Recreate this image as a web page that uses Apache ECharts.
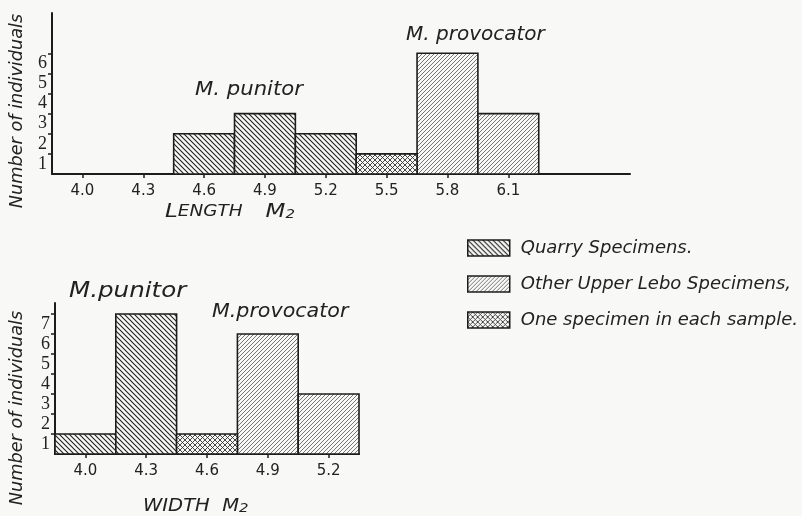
<!DOCTYPE html>
<html>
<head>
<meta charset="utf-8">
<script src="https://cdn.jsdelivr.net/npm/echarts@6/dist/echarts.min.js"></script>
<style>
  html, body { margin: 0; padding: 0; background: #f8f8f7; }
  #main { width: 802px; height: 516px; }
</style>
</head>
<body>
<div id="main"></div>
<script>
// histogram data (bin centres, counts, which hatch)
var binWidth = 0.3;

var lengthBins   = [4.6, 4.9, 5.2, 5.5, 5.8, 6.1];
var lengthCounts = [2, 3, 2, 1, 6, 3];
var lengthGroup  = ['quarry', 'quarry', 'quarry', 'both', 'other', 'other'];
var lengthTicks  = [4.0, 4.3, 4.6, 4.9, 5.2, 5.5, 5.8, 6.1];

var widthBins   = [4.0, 4.3, 4.6, 4.9, 5.2];
var widthCounts = [1, 7, 1, 6, 3];
var widthGroup  = ['quarry', 'quarry', 'both', 'other', 'other'];
var widthTicks  = [4.0, 4.3, 4.6, 4.9, 5.2];

var countTicks  = [1, 2, 3, 4, 5, 6];
var countTicksW = [1, 2, 3, 4, 5, 6, 7];

var groupNames = {
  quarry: 'Quarry Specimens.',
  other: 'Other Upper Lebo Specimens,',
  both: 'One specimen in each sample.'
};

var ink = '#1c1c1c';
var font = 'DejaVu Sans';

// hatch tiles
function hatch(size, dirs, lw, color) {
  var c = document.createElement('canvas');
  c.width = size; c.height = size;
  var ctx = c.getContext('2d');
  ctx.fillStyle = '#f8f8f7';
  ctx.fillRect(0, 0, size, size);
  ctx.strokeStyle = color;
  ctx.lineWidth = lw;
  dirs.forEach(function (d) {
    ctx.beginPath();
    if (d === '\\') {
      ctx.moveTo(-1, -1); ctx.lineTo(size + 1, size + 1);
      ctx.moveTo(-1, size - 1); ctx.lineTo(1, size + 1);
      ctx.moveTo(size - 1, -1); ctx.lineTo(size + 1, 1);
    } else {
      ctx.moveTo(-1, size + 1); ctx.lineTo(size + 1, -1);
      ctx.moveTo(-1, 1); ctx.lineTo(1, -1);
      ctx.moveTo(size - 1, size + 1); ctx.lineTo(size + 1, size - 1);
    }
    ctx.stroke();
  });
  return { image: c, repeat: 'repeat' };
}

var patterns = {
  quarry: hatch(5, ['\\'], 1.1, '#222'),
  other: hatch(4, ['/'], 0.8, '#555'),
  both: hatch(5, ['\\', '/'], 0.9, '#333')
};

function pick(bins, counts, groups, g) {
  var out = [];
  for (var i = 0; i < bins.length; i++) {
    if (groups[i] === g) out.push([bins[i], counts[i]]);
  }
  return out;
}

function groupOf(name) {
  for (var k in groupNames) if (groupNames[k] === name) return k;
}

function renderBar(params, api) {
  var x = api.value(0), n = api.value(1);
  var p0 = api.coord([x - binWidth / 2, n]);
  var p1 = api.coord([x + binWidth / 2, 0]);
  return {
    type: 'rect',
    shape: { x: p0[0], y: p0[1], width: p1[0] - p0[0], height: p1[1] - p0[1] },
    style: { fill: patterns[groupOf(params.seriesName)], stroke: ink, lineWidth: 1.6 }
  };
}

var series = [];
['quarry', 'other', 'both'].forEach(function (g) {
  series.push({
    type: 'custom', name: groupNames[g], xAxisIndex: 0, yAxisIndex: 0,
    renderItem: renderBar, encode: { x: 0, y: 1 },
    data: pick(lengthBins, lengthCounts, lengthGroup, g)
  });
  series.push({
    type: 'custom', name: groupNames[g], xAxisIndex: 1, yAxisIndex: 1,
    renderItem: renderBar, encode: { x: 0, y: 1 },
    data: pick(widthBins, widthCounts, widthGroup, g)
  });
});

function xAxis(idx, min, max, ticks) {
  return {
    type: 'value', gridIndex: idx, min: min, max: max,
    axisLine: { show: true, lineStyle: { color: ink, width: 2 } },
    axisTick: { show: true, customValues: ticks, length: 4, lineStyle: { color: ink, width: 1.5 } },
    axisLabel: {
      customValues: ticks, margin: 10, color: '#222', fontFamily: font, fontSize: 15,
      formatter: function (v) { return v.toFixed(1); }
    },
    splitLine: { show: false }
  };
}

function yAxis(idx, max, ticks) {
  return {
    type: 'value', gridIndex: idx, min: 0, max: max,
    axisLine: { show: true, lineStyle: { color: ink, width: 2 } },
    axisTick: { show: true, customValues: ticks, length: 4, lineStyle: { color: ink, width: 1.5 } },
    axisLabel: {
      customValues: ticks.map(function (t) { return t - 0.5; }),
      margin: 5, color: '#222', fontFamily: 'Liberation Serif', fontSize: 18,
      formatter: function (v) { return Math.round(v + 0.5); }
    },
    splitLine: { show: false }
  };
}

function label(x, y, text, size, sx) {
  return {
    type: 'text', x: x, y: y, scaleX: sx || 1,
    style: { text: text, font: 'italic ' + size + 'px "DejaVu Sans"', fill: '#222', verticalAlign: 'middle' }
  };
}

var chart = echarts.init(document.getElementById('main'));

var option = {
  backgroundColor: '#f8f8f7',
  animation: false,
  grid: [
    { left: 52, top: 13, width: 578, height: 161 },
    { left: 55, top: 303, width: 304, height: 151 }
  ],
  xAxis: [xAxis(0, 3.85, 6.70, lengthTicks), xAxis(1, 3.85, 5.35, widthTicks)],
  yAxis: [yAxis(0, 8, countTicks), yAxis(1, 7.55, countTicksW)],
  legend: {
    orient: 'vertical', left: 462, top: 234,
    itemWidth: 42, itemHeight: 16, itemGap: 18,
    icon: 'rect',
    selectedMode: false,
    textStyle: { fontFamily: font, fontStyle: 'italic', fontSize: 18, color: '#222', padding: [0, 0, 0, 6] },
    data: ['quarry', 'other', 'both'].map(function (g) {
      return { name: groupNames[g], itemStyle: { color: patterns[g], borderColor: ink, borderWidth: 1.5 } };
    })
  },
  graphic: [
    { type: 'text', x: 18, y: 111, rotation: Math.PI / 2, scaleX: 1.04,
      style: { text: 'Number of individuals', font: 'italic 17px "DejaVu Sans"', fill: '#222', align: 'center', verticalAlign: 'middle' } },
    { type: 'text', x: 18, y: 408, rotation: Math.PI / 2, scaleX: 1.04,
      style: { text: 'Number of individuals', font: 'italic 17px "DejaVu Sans"', fill: '#222', align: 'center', verticalAlign: 'middle' } },
    { type: 'text', x: 165, y: 212, scaleX: 1.15,
      style: {
        text: '{b|L}{s|ENGTH}      {b|M}{u|2}', verticalAlign: 'middle',
        rich: {
          b: { font: 'italic 20px "DejaVu Sans"', fill: '#222' },
          s: { font: 'italic 16px "DejaVu Sans"', fill: '#222' },
          u: { font: 'italic 13px "DejaVu Sans"', fill: '#222', padding: [5, 0, 0, 0] }
        }
      } },
    { type: 'text', x: 143, y: 507, scaleX: 1.15,
      style: {
        text: 'WIDTH  {u|M}{s|2}', font: 'italic 17px "DejaVu Sans"', fill: '#222', verticalAlign: 'middle',
        rich: {
          u: { font: 'italic 17px "DejaVu Sans"', fill: '#222' },
          s: { font: 'italic 13px "DejaVu Sans"', fill: '#222', padding: [4, 0, 0, 0] }
        }
      } },
    label(195, 90, 'M. punitor', 20, 1.06),
    label(406, 35, 'M. provocator', 20, 1.0),
    label(69, 292, 'M.punitor', 21, 1.17),
    label(212, 312, 'M.provocator', 20, 1.03)
  ],
  series: series
};

chart.setOption(option);
</script>
</body>
</html>
